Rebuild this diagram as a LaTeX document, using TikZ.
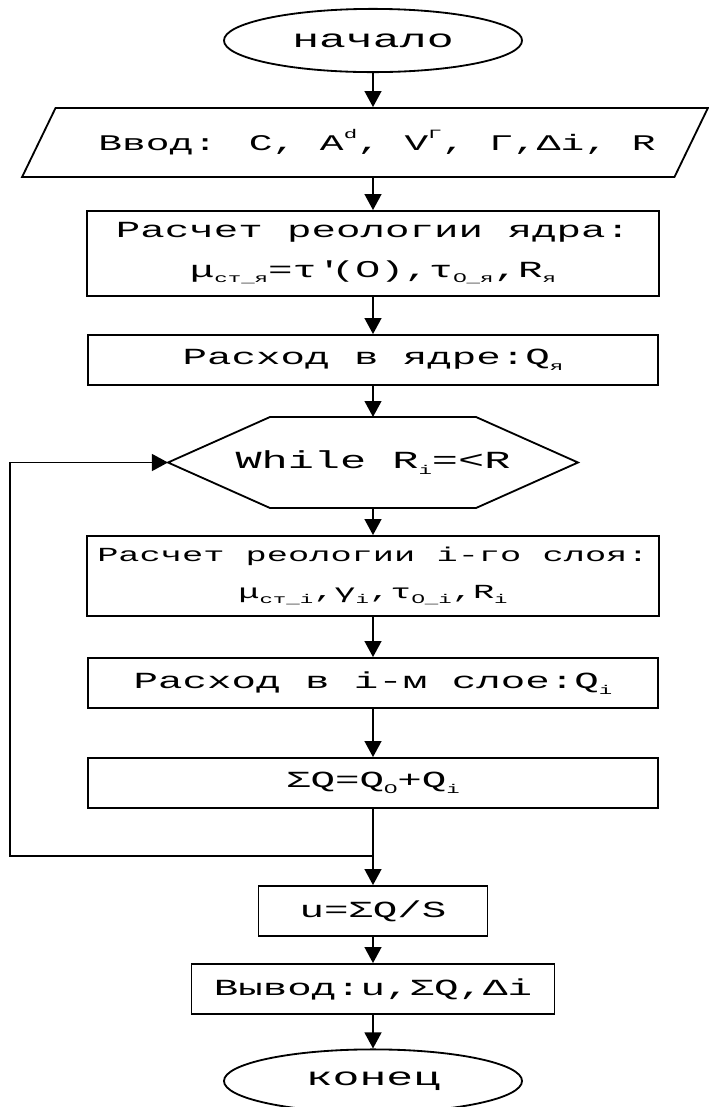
\documentclass[tikz,border=0pt]{standalone}
\usepackage{fontspec}
\setmainfont[FakeStretch=1.77]{Liberation Mono}
\newfontfamily\plainfont[FakeStretch=1.9]{Liberation Sans}
\usetikzlibrary{shapes.geometric,arrows.meta}
\newcommand{\lo}[1]{\raisebox{-0.45ex}{\fontsize{9}{9}\selectfont #1}}
\newcommand{\hi}[1]{\raisebox{1.0ex}{\fontsize{9}{9}\selectfont #1}}
\newcommand{\nul}{{\plainfont 0}}

\begin{document}
\begin{tikzpicture}[x=0.025cm,y=-0.025cm,line width=1.3pt,
  every node/.style={font=\fontsize{16.4}{28}\selectfont},
  blok/.style={draw,rectangle,minimum width=14.25cm,minimum height=1.25cm,inner sep=0pt,align=center},
  term/.style={draw,ellipse,minimum width=7.45cm,minimum height=1.58cm,inner sep=0pt,font=\fontsize{18}{22}\selectfont},
  vvod/.style={draw,trapezium,trapezium left angle=39,trapezium right angle=141,trapezium stretches=true,minimum width=17.15cm,minimum height=1.725cm,inner sep=0pt},
  arr/.style={-{Triangle[length=0.4cm,width=0.42cm]}}]
\useasboundingbox (0,0) rectangle (709,1107);

% Start and input
\node[term] (start) at (373,40.5) {начало};
\node[vvod,font=\fontsize{15.9}{22}\selectfont] (input) at (365,142.5) {\hspace*{0.6cm}Ввод: C, A\hi{d}, V\hi{Г}, Г,Δi, R};
\draw[arr] (start.south) -- (start.south |- input.north);

% Core of the flow
\node[blok,minimum width=14.3cm,minimum height=2.125cm] (core) at (373,253.5)
  {Расчет реологии ядра:\\μ\lo{ст\_я}=τ\textquotesingle(\nul),τ\lo{\nul\_я},R\lo{я}};
\node[blok] (flowcore) at (373,360) {Расход в ядре:Q\lo{я}};
\draw[arr] (core.north |- input.south) -- (core.north);
\draw[arr] (core.south) -- (flowcore.north);

% Loop condition (hexagon)
\node[font=\fontsize{17.5}{22}\selectfont] (cond) at (373,462.5) {While R\lo{i}=<R};
\coordinate (condW) at (168,462.5);
\coordinate (condN) at (373,417);
\coordinate (condS) at (373,508);
\draw (condW) -- (270,417) -- (476,417) -- (578,462.5) -- (476,508) -- (270,508) -- cycle;
\draw[arr] (flowcore.south) -- (condN);

% Body of the loop
\node[blok,minimum width=14.3cm,minimum height=2cm,font=\fontsize{14.2}{26}\selectfont] (layer) at (373,576)
  {Расчет реологии i-го слоя:\\μ\lo{ст\_i},γ\lo{i},τ\lo{\nul\_i},R\lo{i}};
\node[blok] (flowlayer) at (373,683) {Расход в i-м слое:Q\lo{i}};
\node[blok] (sumq) at (373,783) {ΣQ=Q\lo{\nul}+Q\lo{i}};
\draw[arr] (condS) -- (layer.north);
\draw[arr] (layer.south) -- (flowlayer.north);
\draw[arr] (flowlayer.south) -- (sumq.north);

% Back to the condition
\coordinate (back) at (373,856);
\coordinate (corner) at (10,856);
\draw[arr] (back) -- (corner) |- (condW);

% Velocity, output and end
\node[blok,minimum width=5.725cm] (speed) at (373,911) {u=ΣQ/S};
\node[blok,minimum width=9.075cm] (output) at (373,989) {Вывод:u,ΣQ,Δi};
\node[term] (finish) at (373,1081) {конец};
\draw[arr] (sumq.south) -- (speed.north);
\draw[arr] (speed.south) -- (output.north);
\draw[arr] (output.south) -- (finish.north);

\end{tikzpicture}
\end{document}
